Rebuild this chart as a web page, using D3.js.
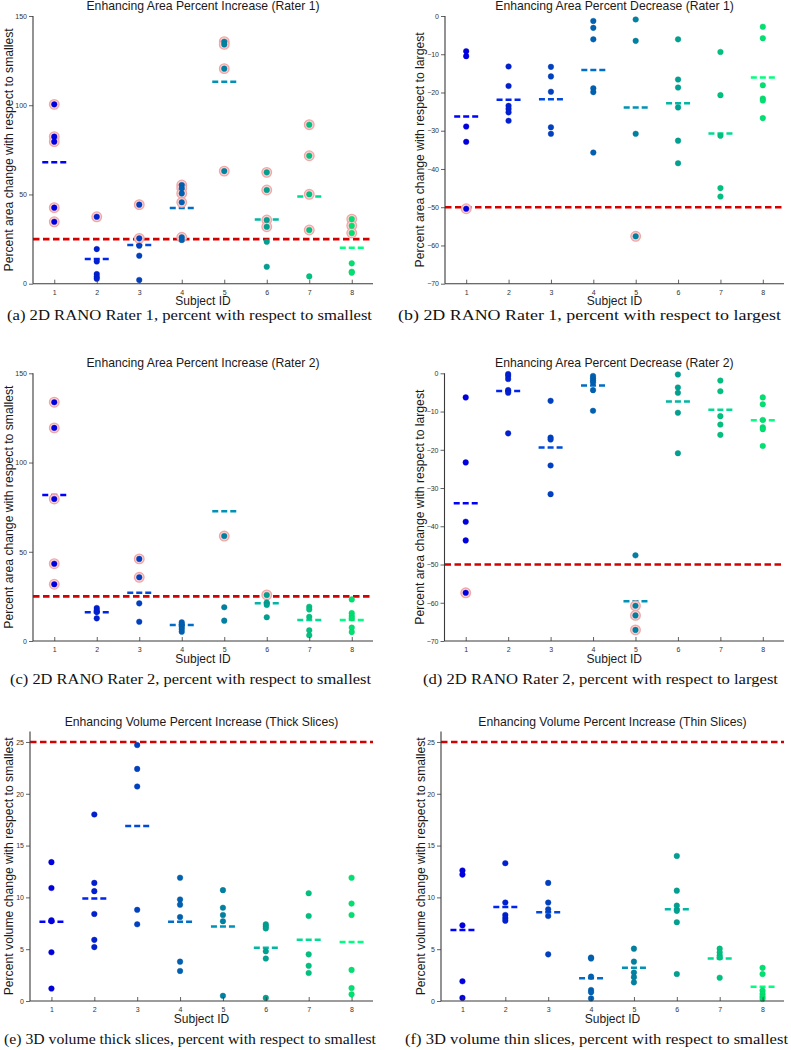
<!DOCTYPE html>
<html>
<head>
<meta charset="utf-8">
<script src="https://cdnjs.cloudflare.com/ajax/libs/d3/7.8.5/d3.min.js"></script>
<style>
  html, body { margin: 0; padding: 0; background: #fff; }
  svg { display: block; }
</style>
</head>
<body>
<svg id="chart" width="791" height="1050"></svg>
<script>
// ---------------- DATA ----------------
const subjectIds = [1, 2, 3, 4, 5, 6, 7, 8];

const areaTicks = [0, 50, 100, 150];
const decreaseTicks = [0, -10, -20, -30, -40, -50, -60, -70];
const volumeTicks = [0, 5, 10, 15, 20, 25];

// (a) 2D RANO Rater 1, increase w.r.t. smallest
const rater1IncreaseValues = [
  [100.5, 82.4, 79.6, 42.6, 34.7],
  [37.5, 19.4, 12.5, 5.4, 3.9, 2.8],
  [44.3, 25.4, 21.3, 15.7, 2.1],
  [55.3, 53.5, 50.6, 45.6, 26.0, 24.5],
  [135.6, 134.1, 120.5, 63.1],
  [62.4, 52.5, 35.7, 31.9, 23.5, 9.5],
  [89.1, 71.7, 50.1, 30.1, 4.1],
  [36.2, 32.5, 28.4, 11.4, 6.7, 6.2]
];
const rater1IncreaseMeans = [68.0, 13.8, 21.7, 42.4, 113.2, 36.0, 48.9, 20.2];

// (b) 2D RANO Rater 1, decrease w.r.t. largest
const rater1DecreaseValues = [
  [-9.2, -10.5, -28.9, -32.9, -50.4],
  [-13.2, -18.3, -23.5, -24.3, -25.2, -27.4],
  [-13.3, -15.8, -19.8, -29.1, -30.8],
  [-1.3, -3.1, -6.1, -18.9, -19.9, -35.7],
  [-0.9, -6.5, -30.8, -57.6],
  [-6.1, -16.6, -18.7, -23.9, -32.6, -38.5],
  [-9.4, -20.7, -31.3, -45.0, -47.2],
  [-2.8, -5.8, -18.1, -21.6, -22.1, -26.7]
];
const rater1DecreaseMeans = [-26.3, -21.9, -21.8, -14.1, -23.9, -22.8, -30.7, -16.1];

// (c) 2D RANO Rater 2, increase w.r.t. smallest
const rater2IncreaseValues = [
  [133.8, 119.4, 79.6, 43.3, 31.8],
  [18.5, 17.3, 16.2, 12.7],
  [46.0, 35.7, 21.1, 10.8],
  [10.5, 9.3, 8.0, 6.7, 5.2],
  [58.8, 18.9, 11.4],
  [25.8, 21.5, 20.2, 13.3],
  [19.2, 17.7, 13.5, 6.0, 3.2],
  [23.3, 15.6, 14.0, 12.8, 7.5, 5.0]
];
const rater2IncreaseMeans = [81.8, 16.1, 27.1, 9.0, 72.7, 21.1, 11.8, 11.8];

// (d) 2D RANO Rater 2, decrease w.r.t. largest
const rater2DecreaseValues = [
  [-6.3, -23.3, -38.8, -43.7, -57.4],
  [-0.2, -0.7, -1.5, -4.4, -5.1, -15.7],
  [-7.2, -16.8, -17.3, -24.1, -31.6],
  [-0.7, -1.3, -1.9, -2.4, -4.4, -9.8],
  [-47.6, -60.8, -63.3, -67.1],
  [-0.3, -3.7, -5.1, -10.3, -20.9],
  [-1.9, -4.7, -11.2, -13.4, -16.1],
  [-6.3, -8.1, -12.2, -14.1, -14.6, -19.0]
];
const rater2DecreaseMeans = [-34.0, -4.6, -19.4, -3.2, -59.6, -7.4, -9.5, -12.3];

// (e) 3D volume, thick slices
const thickVolumeValues = [
  [13.4, 10.9, 7.8, 7.7, 4.7, 1.2],
  [18.0, 11.4, 10.6, 8.4, 5.9, 5.2],
  [24.7, 22.4, 20.7, 8.8, 7.4],
  [11.9, 9.8, 9.3, 8.1, 3.8, 2.9],
  [10.7, 9.0, 8.3, 7.7, 0.5],
  [7.4, 7.2, 7.0, 4.8, 4.1, 0.3],
  [10.4, 8.2, 4.5, 3.4, 2.7],
  [11.9, 9.4, 8.3, 3.0, 1.25, 0.64]
];
const thickVolumeMeans = [7.66, 9.9, 16.9, 7.66, 7.2, 5.15, 5.9, 5.7];

// (f) 3D volume, thin slices
const thinVolumeValues = [
  [12.6, 12.2, 7.3, 1.9, 0.3],
  [13.3, 9.5, 8.3, 8.0, 7.75],
  [11.4, 9.5, 8.85, 8.2, 4.5],
  [4.2, 4.1, 2.35, 1.06, 0.85, 0.25],
  [5.05, 3.8, 2.75, 2.3, 1.8],
  [14.0, 10.65, 9.2, 8.7, 7.6, 2.6],
  [5.05, 4.7, 4.4, 4.2, 2.25],
  [3.2, 2.6, 1.0, 0.68, 0.42, 0.2]
];
const thinVolumeMeans = [6.85, 9.07, 8.56, 2.2, 3.2, 8.85, 4.1, 1.38];

const thresholds = [25, -50, 25, -50, 25, 25];

const titles = [
  "Enhancing Area Percent Increase (Rater 1)",
  "Enhancing Area Percent Decrease (Rater 1)",
  "Enhancing Area Percent Increase (Rater 2)",
  "Enhancing Area Percent Decrease (Rater 2)",
  "Enhancing Volume Percent Increase (Thick Slices)",
  "Enhancing Volume Percent Increase (Thin Slices)"
];
const yLabels = [
  "Percent area change with respect to smallest",
  "Percent area change with respect to largest",
  "Percent area change with respect to smallest",
  "Percent area change with respect to largest",
  "Percent volume change with respect to smallest",
  "Percent volume change with respect to smallest"
];
const xLabel = "Subject ID";
const captions = [
  "(a) 2D RANO Rater 1, percent with respect to smallest",
  "(b) 2D RANO Rater 1, percent with respect to largest",
  "(c) 2D RANO Rater 2, percent with respect to smallest",
  "(d) 2D RANO Rater 2, percent with respect to largest",
  "(e) 3D volume thick slices, percent with respect to smallest",
  "(f) 3D volume thin slices, percent with respect to smallest"
];

// ---------------- LAYOUT ----------------
const svg = d3.select("#chart");
svg.append("rect").attr("width", 791).attr("height", 1050).attr("fill", "#fff");

const panels = [
  { values: rater1IncreaseValues, means: rater1IncreaseMeans, ticks: areaTicks, domain: [0, 150],
    x0: 33, x1: 373, top: 16, bottom: 283.7, ylabX: 13, capX: 7, capW: 365, capY: 320 },
  { values: rater1DecreaseValues, means: rater1DecreaseMeans, ticks: decreaseTicks, domain: [-70, 0],
    x0: 445, x1: 784, top: 16, bottom: 283.7, ylabX: 424, capX: 398, capW: 383, capY: 320 },
  { values: rater2IncreaseValues, means: rater2IncreaseMeans, ticks: areaTicks, domain: [0, 150],
    x0: 33, x1: 373, top: 373.3, bottom: 641, ylabX: 13, capX: 10, capW: 361, capY: 684 },
  { values: rater2DecreaseValues, means: rater2DecreaseMeans, ticks: decreaseTicks, domain: [-70, 0],
    x0: 444.5, x1: 784, top: 373.3, bottom: 641, ylabX: 424, capX: 423, capW: 355, capY: 684 },
  { values: thickVolumeValues, means: thickVolumeMeans, ticks: volumeTicks, domain: [0, 26],
    x0: 30, x1: 373, top: 731.6, bottom: 1001, ylabX: 13, capX: 4, capW: 372, capY: 1044 },
  { values: thinVolumeValues, means: thinVolumeMeans, ticks: volumeTicks, domain: [0, 26],
    x0: 441, x1: 784, top: 731.6, bottom: 1001, ylabX: 425, capX: 405, capW: 383, capY: 1044 }
];

// MATLAB "winter" colormap across subjects
function winter(i) {
  const t = i / (subjectIds.length - 1);
  return d3.rgb(0, Math.round(255 * t), Math.round(255 * (1 - 0.5 * t)));
}

const sans = "'Liberation Sans', Arial, Helvetica, sans-serif";
const serif = "'Liberation Serif', 'Times New Roman', serif";
const axisColor = "#3a3a3a";

panels.forEach((p, k) => {
  const g = svg.append("g");
  const x = d3.scaleLinear().domain([0.5, 8.5]).range([p.x0, p.x1]);
  const y = d3.scaleLinear().domain(p.domain).range([p.bottom, p.top]);
  const thr = thresholds[k];
  const exceeds = v => (thr > 0 ? v > thr : v < thr);

  // threshold line
  g.append("line")
    .attr("x1", p.x0).attr("x2", p.x1)
    .attr("y1", y(thr)).attr("y2", y(thr))
    .attr("stroke", "#d40000").attr("stroke-width", 2.6)
    .attr("stroke-dasharray", "6.5,3.5");

  // mean dashes
  g.selectAll(".mean").data(p.means).enter().append("line")
    .attr("x1", (d, i) => x(subjectIds[i]) - 12)
    .attr("x2", (d, i) => x(subjectIds[i]) + 12)
    .attr("y1", d => y(d)).attr("y2", d => y(d))
    .attr("stroke", (d, i) => winter(i))
    .attr("stroke-width", 2.5)
    .attr("stroke-dasharray", "6,3");

  // points
  const pts = [];
  p.values.forEach((arr, i) => arr.forEach(v => pts.push({ i, v })));

  g.selectAll(".halo").data(pts.filter(d => exceeds(d.v))).enter().append("circle")
    .attr("cx", d => x(subjectIds[d.i])).attr("cy", d => y(d.v))
    .attr("r", 4.8)
    .attr("fill", "#fbd6d6").attr("stroke", "#f2a6a6").attr("stroke-width", 1.3);

  g.selectAll(".dot").data(pts).enter().append("circle")
    .attr("cx", d => x(subjectIds[d.i])).attr("cy", d => y(d.v))
    .attr("r", 2.8)
    .attr("fill", d => winter(d.i).darker(0.35))
    .attr("stroke", d => winter(d.i).darker(0.7))
    .attr("stroke-width", 0.4);

  // axes
  const yAxis = d3.axisLeft(y).tickValues(p.ticks).tickSize(4).tickPadding(2).tickFormat(d3.format("d"));
  const ya = g.append("g").attr("transform", `translate(${p.x0},0)`).call(yAxis);
  const xAxis = d3.axisBottom(x).tickValues(subjectIds).tickSize(-4).tickPadding(6).tickFormat(d3.format("d"));
  const xa = g.append("g").attr("transform", `translate(0,${p.bottom})`).call(xAxis);
  [ya, xa].forEach(a => {
    a.select(".domain").attr("stroke", axisColor).attr("stroke-width", 1.1);
    a.selectAll(".tick line").attr("stroke", axisColor).attr("stroke-width", 0.8);
    a.selectAll(".tick text").attr("fill", "#333").attr("font-size", 7).attr("font-family", sans);
  });
  ya.select(".domain").attr("d", `M0,${p.bottom}V${p.top}`);
  xa.select(".domain").attr("d", `M${p.x0},0H${p.x1}`);

  // title
  g.append("text")
    .attr("x", (p.x0 + p.x1) / 2).attr("y", p.top - 6)
    .attr("text-anchor", "middle")
    .attr("font-family", sans).attr("font-size", 12.2).attr("fill", "#1a1a1a")
    .text(titles[k]);

  // y label
  g.append("text")
    .attr("transform", `translate(${p.ylabX},${(p.top + p.bottom) / 2}) rotate(-90)`)
    .attr("text-anchor", "middle")
    .attr("font-family", sans).attr("font-size", 12.2).attr("fill", "#1a1a1a")
    .text(yLabels[k]);

  // x label
  g.append("text")
    .attr("x", (p.x0 + p.x1) / 2).attr("y", p.bottom + 21.5)
    .attr("text-anchor", "middle")
    .attr("font-family", sans).attr("font-size", 12).attr("fill", "#1a1a1a")
    .text(xLabel);

  // caption
  g.append("text")
    .attr("x", p.capX).attr("y", p.capY)
    .attr("font-family", serif).attr("font-size", 14.5).attr("fill", "#111")
    .attr("textLength", p.capW).attr("lengthAdjust", "spacingAndGlyphs")
    .text(captions[k]);
});
</script>
</body>
</html>
